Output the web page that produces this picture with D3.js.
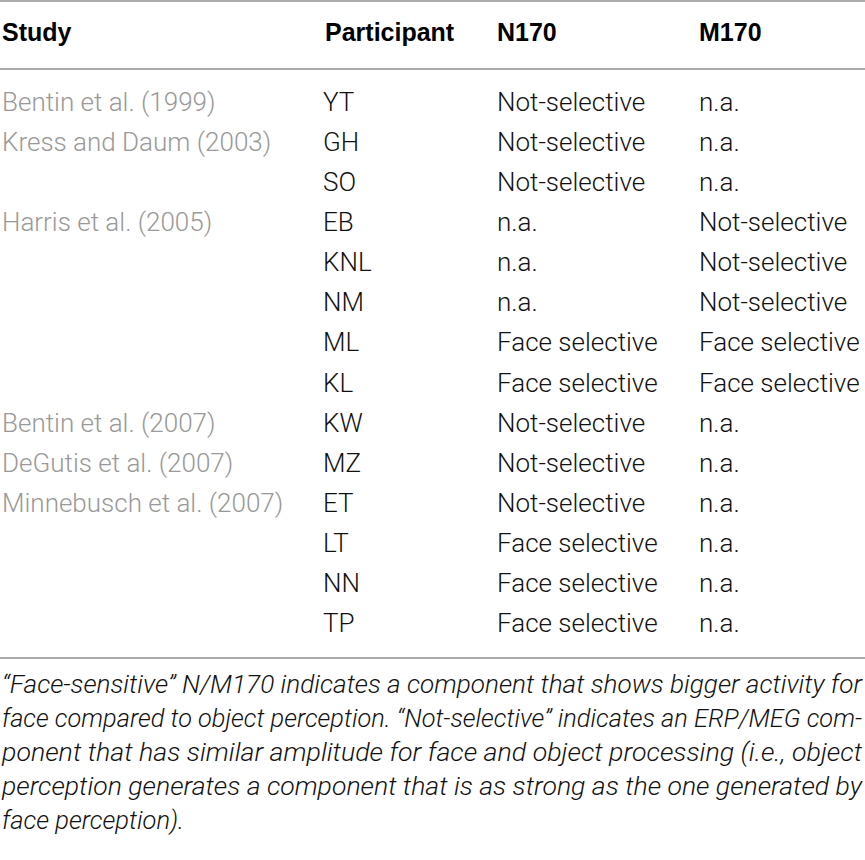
<!DOCTYPE html>
<html>
<head>
<meta charset="utf-8">
<script src="https://cdn.jsdelivr.net/npm/d3@7"></script>
<style>
  body { margin: 0; background: #fff; }
  svg { display: block; }
</style>
</head>
<body>
<div id="table"></div>
<script>
const width = 865, height = 860;

const headers = ["Study", "Participant", "N170", "M170"];
const studies = ["Bentin et al. (1999)", "Kress and Daum (2003)", "", "Harris et al. (2005)", "", "", "", "",
  "Bentin et al. (2007)", "DeGutis et al. (2007)", "Minnebusch et al. (2007)", "", "", ""];
const participants = ["YT", "GH", "SO", "EB", "KNL", "NM", "ML", "KL", "KW", "MZ", "ET", "LT", "NN", "TP"];
const n170 = ["Not-selective", "Not-selective", "Not-selective", "n.a.", "n.a.", "n.a.", "Face selective",
  "Face selective", "Not-selective", "Not-selective", "Not-selective", "Face selective", "Face selective", "Face selective"];
const m170 = ["n.a.", "n.a.", "n.a.", "Not-selective", "Not-selective", "Not-selective", "Face selective",
  "Face selective", "n.a.", "n.a.", "n.a.", "n.a.", "n.a.", "n.a."];
const footnote = [
  "\u201cFace-sensitive\u201d N/M170 indicates a component that shows bigger activity for",
  "face compared to object perception. \u201cNot-selective\u201d indicates an ERP/MEG com-",
  "ponent that has similar amplitude for face and object processing (i.e., object",
  "perception generates a component that is as strong as the one generated by",
  "face perception)."
];

const columns = [studies, participants, n170, m170];

const svg = d3.select("#table").append("svg")
  .attr("width", width)
  .attr("height", height);

let xScale = d3.scaleOrdinal()
  .domain(headers)
  .range([2, 323, 497, 699]);

let yScale = d3.scaleBand()
  .domain(d3.range(participants.length))
  .range([81, 642]);

let noteScale = d3.scalePoint()
  .domain(d3.range(footnote.length))
  .range([693, 829]);

// rules
svg.append("g")
  .selectAll("line")
  .data([1, 69, 658])
  .join("line")
  .attr("x1", 0)
  .attr("x2", width)
  .attr("y1", d => d)
  .attr("y2", d => d)
  .attr("stroke", "#aaa")
  .attr("stroke-width", 2);

// header
svg.append("g")
  .selectAll("text")
  .data(headers)
  .join("text")
  .attr("x", (d, i) => i === 1 ? 325 : xScale(d))
  .attr("y", 41)
  .attr("font-family", "'Liberation Sans', Arial, sans-serif")
  .attr("font-weight", "bold")
  .attr("font-size", 25)
  .attr("fill", "#000")
  .text(d => d);

// body cells
columns.forEach((col, c) => {
  svg.append("g")
    .selectAll("text")
    .data(col)
    .join("text")
    .attr("x", xScale(headers[c]))
    .attr("y", (d, i) => yScale(i) + 30)
    .attr("font-family", "Roboto, 'Liberation Sans', sans-serif")
    .attr("font-weight", 300)
    .attr("font-size", 26)
    .attr("fill", c === 0 ? "#999" : "#111")
    .text(d => d);
});

// footnote, justified
svg.append("g")
  .selectAll("text")
  .data(footnote)
  .join("text")
  .attr("x", 2)
  .attr("y", (d, i) => noteScale(i))
  .attr("font-family", "Roboto, 'Liberation Sans', sans-serif")
  .attr("font-weight", 300)
  .attr("font-style", "italic")
  .attr("font-size", 25)
  .attr("fill", "#111")
  .attr("textLength", (d, i) => i < footnote.length - 1 ? 860 : 182)
  .attr("lengthAdjust", "spacingAndGlyphs")
  .text(d => d);
</script>
</body>
</html>
